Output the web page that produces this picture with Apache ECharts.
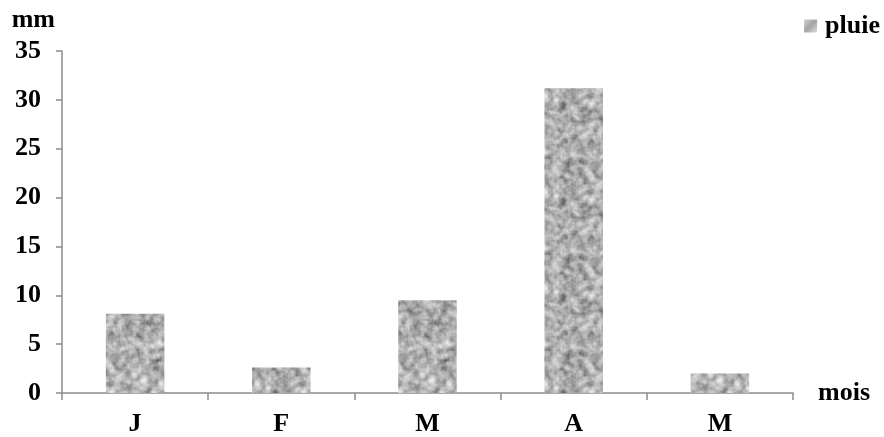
<!DOCTYPE html>
<html>
<head>
<meta charset="utf-8">
<style>
  html, body { margin: 0; padding: 0; background: #fff; }
  #chart { width: 884px; height: 437px; }
</style>
<script src="https://cdn.jsdelivr.net/npm/echarts@6/dist/echarts.min.js"></script>
</head>
<body>
<div id="chart"></div>
<script>
// Monthly rainfall (mm)
const months = ['J', 'F', 'M', 'A', 'M'];
const rainfall = [8.1, 2.6, 9.5, 31.2, 2.0];
const yTicks = [0, 5, 10, 15, 20, 25, 30, 35];

// Granite-like grey fill texture: seeded noise, smoothed by box blur.
function makeGraniteTexture(size) {
  let seed = 20240;
  const rand = () => {
    seed |= 0; seed = (seed + 0x6D2B79F5) | 0;
    let t = Math.imul(seed ^ (seed >>> 15), 1 | seed);
    t = (t + Math.imul(t ^ (t >>> 7), 61 | t)) ^ t;
    return ((t ^ (t >>> 14)) >>> 0) / 4294967296;
  };
  const field = new Float32Array(size * size);
  for (let i = 0; i < field.length; i++) field[i] = rand();
  const blur = (src, r) => {
    const out = new Float32Array(src.length);
    for (let y = 0; y < size; y++) {
      for (let x = 0; x < size; x++) {
        let s = 0, n = 0;
        for (let dy = -r; dy <= r; dy++) {
          for (let dx = -r; dx <= r; dx++) {
            const xx = (x + dx + size) % size, yy = (y + dy + size) % size;
            s += src[yy * size + xx]; n++;
          }
        }
        out[y * size + x] = s / n;
      }
    }
    return out;
  };
  const coarse = blur(blur(field, 2), 2);
  const fine = blur(field, 1);
  const mix = new Float32Array(field.length);
  let mn = Infinity, mx = -Infinity;
  for (let i = 0; i < field.length; i++) {
    mix[i] = coarse[i] * 0.8 + fine[i] * 0.2;
    mn = Math.min(mn, mix[i]); mx = Math.max(mx, mix[i]);
  }
  const c = document.createElement('canvas');
  c.width = c.height = size;
  const ctx = c.getContext('2d');
  const img = ctx.createImageData(size, size);
  for (let i = 0; i < field.length; i++) {
    const v = Math.pow((mix[i] - mn) / (mx - mn), 0.7);
    const g = Math.round(85 + v * 155);
    img.data[i * 4] = g; img.data[i * 4 + 1] = g; img.data[i * 4 + 2] = g;
    img.data[i * 4 + 3] = 255;
  }
  ctx.putImageData(img, 0, 0);
  return c;
}

const texture = makeGraniteTexture(96);
const boldSerif = { fontFamily: 'Liberation Serif', fontWeight: 'bold', fontSize: 26, color: '#000' };
const axisGrey = '#8c8c8c';

const chart = echarts.init(document.getElementById('chart'), null, { renderer: 'canvas' });
chart.setOption({
  animation: false,
  backgroundColor: '#fff',
  grid: { left: 62, right: 91, top: 51, bottom: 44, containLabel: false },
  legend: {
    right: 4, top: 13, padding: 0,
    itemWidth: 13, itemHeight: 13,
    icon: 'rect',
    textStyle: Object.assign({}, boldSerif, { padding: [0, 0, 0, 3] }),
    data: [{
      name: 'pluie',
      itemStyle: {
        color: {
          type: 'linear', x: 0, y: 0, x2: 1, y2: 1,
          colorStops: [
            { offset: 0, color: '#cfcfcf' },
            { offset: 0.5, color: '#a4a4a4' },
            { offset: 1, color: '#dedede' }
          ]
        }
      }
    }]
  },
  xAxis: {
    type: 'category',
    data: months,
    boundaryGap: true,
    name: 'mois',
    nameLocation: 'end',
    nameGap: 25,
    nameTextStyle: boldSerif,
    axisLine: { lineStyle: { color: axisGrey, width: 1.5 } },
    axisTick: { show: true, alignWithLabel: false, length: 7, lineStyle: { color: axisGrey, width: 1.5 } },
    axisLabel: Object.assign({ margin: 18 }, boldSerif),
    splitLine: { show: false }
  },
  yAxis: {
    type: 'value',
    min: 0, max: 35, interval: 5,
    name: 'mm',
    nameLocation: 'end',
    nameGap: 18,
    nameTextStyle: Object.assign({ align: 'right', padding: [0, 7, 0, 0] }, boldSerif),
    axisLine: { show: true, lineStyle: { color: axisGrey, width: 1.5 } },
    axisTick: { show: true, length: 6, lineStyle: { color: axisGrey, width: 1.5 } },
    axisLabel: Object.assign({
      margin: 21,
      formatter: v => (yTicks.indexOf(v) >= 0 ? String(v) : '')
    }, boldSerif),
    splitLine: { show: false }
  },
  series: [{
    name: 'pluie',
    type: 'bar',
    data: rainfall,
    barWidth: '40%',
    itemStyle: { color: { image: texture, repeat: 'repeat' } }
  }]
});
</script>
</body>
</html>
